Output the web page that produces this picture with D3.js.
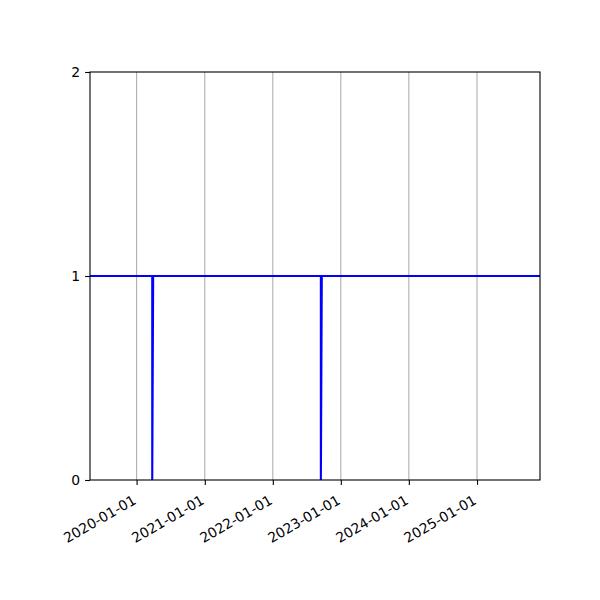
<!DOCTYPE html>
<html><head><meta charset="utf-8">
<script src="https://cdn.jsdelivr.net/npm/d3@7"></script>
<style>body{margin:0;background:#fff}svg{display:block}text{font-family:"DejaVu Sans",sans-serif}</style>
</head><body><div id="c"></div>
<script>
const dates = ["2019-04-01","2020-03-25","2020-03-25","2020-03-30","2022-09-16","2022-09-16","2022-09-21","2026-01-01"];
const values = [1,1,0,1,1,0,1,1];
const xDomain = ["2019-04-26","2025-12-05"];
const yTicks = [0,1,2];
const xTickDates = ["2020-01-01","2021-01-01","2022-01-01","2023-01-01","2024-01-01","2025-01-01"];

const W=600,H=600,L=90,R=540,T=72,B=480;
const parse=d3.utcParse("%Y-%m-%d");
const fmt=d3.utcFormat("%Y-%m-%d");
const svg=d3.select("#c").append("svg").attr("width",W).attr("height",H);
const x=d3.scaleUtc().domain(xDomain.map(parse)).range([L,R]);
const y=d3.scaleLinear().domain([0,2]).range([B,T]);

svg.append("defs").append("clipPath").attr("id","clip").append("rect").attr("x",L).attr("y",T).attr("width",R-L).attr("height",B-T);

// grid
svg.append("g").selectAll("line").data(xTickDates.map(parse)).join("line")
  .attr("x1",d=>x(d)).attr("x2",d=>x(d)).attr("y1",T).attr("y2",B)
  .attr("stroke","#b0b0b0").attr("stroke-width",1.1);

const pts=dates.map((d,i)=>[parse(d),values[i]]);
svg.append("path").datum(pts).attr("clip-path","url(#clip)")
  .attr("d",d3.line().x(d=>x(d[0])).y(d=>y(d[1])))
  .attr("fill","none").attr("stroke","#0000ff").attr("stroke-width",2.1);

// axes
const xa=svg.append("g").attr("transform",`translate(0,${B})`)
  .call(d3.axisBottom(x).tickValues(xTickDates.map(parse)).tickFormat(fmt).tickSize(4.9).tickPadding(4));
xa.select(".domain").remove();
xa.selectAll("line").attr("stroke","#000").attr("stroke-width",1.1);
xa.selectAll("text").attr("font-size",13.9).attr("fill","#000")
  .attr("text-anchor","end").attr("dy",null).attr("x",0).attr("y",23)
  .attr("transform","rotate(-30,0,23)");

const ya=svg.append("g").attr("transform",`translate(${L},0)`)
  .call(d3.axisLeft(y).tickValues(yTicks).tickFormat(d3.format("d")).tickSize(4.9).tickPadding(4.9));
ya.select(".domain").remove();
ya.selectAll("line").attr("stroke","#000").attr("stroke-width",1.1);
ya.selectAll("text").attr("font-size",13.9).attr("fill","#000");

svg.append("rect").attr("x",L).attr("y",T).attr("width",R-L).attr("height",B-T)
  .attr("fill","none").attr("stroke","#000").attr("stroke-width",1.1);
</script></body></html>
